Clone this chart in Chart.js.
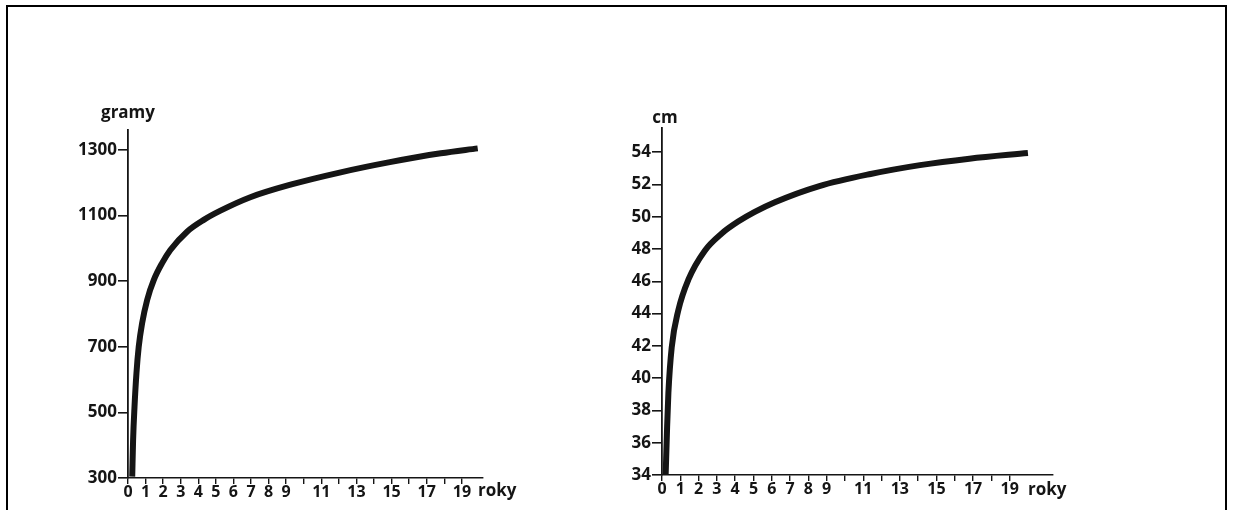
<!DOCTYPE html>
<html><head><meta charset="utf-8">
<script src="https://cdn.jsdelivr.net/npm/chart.js@4.4.1/dist/chart.umd.min.js"></script>
<style>
html,body{margin:0;padding:0;background:#fff;width:1233px;height:510px;overflow:hidden;}
#frame{position:absolute;left:6px;top:5px;width:1217px;height:530px;border:2px solid #000;}
#c1{position:absolute;left:0;top:0;}
#c2{position:absolute;left:600px;top:0;}
</style></head>
<body>
<div id="frame"></div>
<canvas id="c1" width="600" height="510"></canvas>
<canvas id="c2" width="633" height="510"></canvas>
<script>
// ---- data ----
const yearsWeight = [0.24, 0.29, 0.37, 0.48, 0.61, 0.80, 1.09, 1.47, 1.94, 2.41, 3.36, 4.31, 5.26, 6.96, 9.3, 12.1, 14.9, 17.8, 19.9];
const brainWeight = [304, 416, 517, 619, 700, 771, 843, 904, 955, 995, 1051, 1087, 1115, 1156, 1195, 1232, 1263, 1290, 1305];
const yearsHead = [0.2, 0.28, 0.35, 0.53, 0.89, 1.44, 2.34, 3.25, 4.16, 5.07, 6.17, 8.6, 11.4, 14.1, 16.8, 20.0];
const headCm = [34, 37, 39.1, 41.9, 44.2, 46.1, 47.9, 48.95, 49.7, 50.3, 50.9, 51.9, 52.65, 53.2, 53.6, 53.95];
const xTickYears = [0,1,2,3,4,5,6,7,8,9,10,11,12,13,14,15,16,17,18,19];
const xLabelYears = [0,1,2,3,4,5,6,7,8,9,11,13,15,17,19];
const yTicksWeight = [300, 500, 700, 900, 1100, 1300];
const yTicksHead = [34, 36, 38, 40, 42, 44, 46, 48, 50, 52, 54];
const unitWeight = 'gramy';
const unitHead = 'cm';
const unitX = 'roky';

const INK = '#151515';
const FONT = '"Open Sans", "DejaVu Sans", sans-serif';

function makeChart(id, xs, ys, yTicks, yMin, yMax, xMax, pad, yWidth, xHeight, yUnit, unitPos, rokyPos) {
  const labelsPlugin = {
    id: 'units',
    afterDraw(chart) {
      const ctx = chart.ctx;
      const a = chart.chartArea;
      ctx.save();
      ctx.fillStyle = INK;
      ctx.font = 'bold 17px ' + FONT;
      ctx.textAlign = 'center';
      ctx.textBaseline = 'middle';
      ctx.fillText(yUnit, a.left + unitPos[0], a.top + unitPos[1]);
      ctx.textAlign = 'left';
      ctx.textBaseline = 'alphabetic';
      ctx.font = 'bold 17px ' + FONT;
      ctx.fillText(unitX, a.right + rokyPos[0], a.bottom + rokyPos[1]);
      ctx.restore();
    }
  };
  return new Chart(document.getElementById(id), {
    type: 'line',
    data: {
      datasets: [{
        data: xs.map((x, i) => ({x: x, y: ys[i]})),
        borderColor: INK,
        borderWidth: 6,
        pointRadius: 0,
        cubicInterpolationMode: 'monotone',
        fill: false,
        clip: 6
      }]
    },
    options: {
      responsive: false,
      animation: false,
      layout: {padding: pad},
      plugins: {legend: {display: false}, tooltip: {enabled: false}},
      scales: {
        x: {
          type: 'linear', min: 0, max: xMax,
          afterBuildTicks: s => { s.ticks = xTickYears.map(v => ({value: v})); },
          afterFit: s => { s.height = xHeight; },
          border: {display: true, color: INK, width: 1.6},
          grid: {display: true, drawOnChartArea: false, drawTicks: true, tickLength: 6, color: INK, lineWidth: 1.4},
          ticks: {
            autoSkip: false, maxRotation: 0, padding: -1, color: INK,
            font: {family: FONT, size: 16, weight: 'bold'},
            callback: v => xLabelYears.includes(v) ? String(v) : ''
          }
        },
        y: {
          type: 'linear', min: yMin, max: yMax,
          afterBuildTicks: s => { s.ticks = yTicks.map(v => ({value: v})); },
          afterFit: s => { s.width = yWidth; },
          border: {display: true, color: INK, width: 1.8},
          grid: {display: true, drawOnChartArea: false, drawTicks: true, tickLength: 10, color: INK, lineWidth: 1.6},
          ticks: {
            autoSkip: false, padding: 1, color: INK,
            font: {family: FONT, size: 17, weight: 'bold'},
            callback: v => String(v)
          }
        }
      }
    },
    plugins: [labelsPlugin]
  });
}

makeChart('c1', yearsWeight, brainWeight, yTicksWeight, 300, 1361, 20.2,
  {left: 0, top: 130, right: 117, bottom: 0}, 128, 32, unitWeight, [0, -17], [-5, 18]);
makeChart('c2', yearsHead, headCm, yTicksHead, 34, 55.5, 21.37,
  {left: 0, top: 128, right: 180, bottom: 0}, 62, 35, unitHead, [3, -10], [-25, 20]);
</script>
</body></html>
